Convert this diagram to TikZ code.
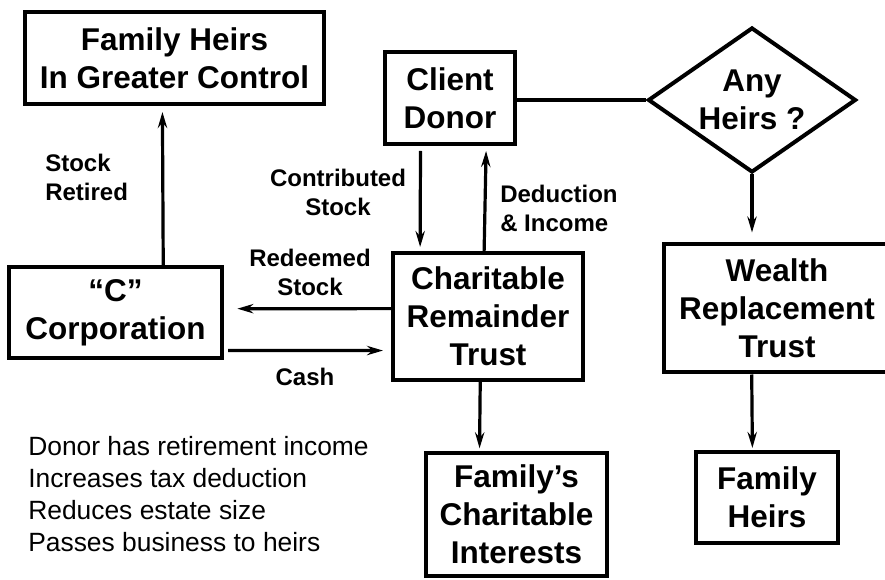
\documentclass[tikz,border=0pt]{standalone}
\usepackage{fontspec}
\setmainfont{Liberation Sans}
\usetikzlibrary{
  arrows.meta,
  shapes.geometric, % Shape "diamond"
  calc,             % Calculations $...$
}
\def\mylw{3pt}
\def\myaw{2.4pt}
\tikzset{
  >={Stealth[length=12pt,width=7pt,inset=4pt]},
  my box/.style={
    draw,
    line width=\mylw,
    rectangle,
    inner sep=0pt,
    align=center,
    font=\bfseries\fontsize{23.6}{28.5}\selectfont
  },
  my decision/.style={
    my box,
    diamond,
    aspect=1.43,
    inner sep=-2pt
  },
  my label/.style={
    inner sep=0pt,
    font=\bfseries\fontsize{18}{21.75}\selectfont
  },
  my note/.style={
    inner sep=0pt,
    align=left,
    font=\fontsize{19.8}{24}\selectfont
  },
  flow/.style={
    ->,
    line width=\myaw,
    shorten >=3pt
  }
}

\begin{document}
\begin{tikzpicture}[x=0.75pt,y=-0.75pt]
\clip (0,0) rectangle (885,580);
% boxes
\node[my box,minimum width=224.25pt,minimum height=69pt] (greater) at (174.5,58) {Family Heirs\\In Greater Control};
\node[my box,minimum width=97.5pt,minimum height=69pt] (donor) at (450,98) {Client\\Donor};
\node[my decision,minimum width=156pt,minimum height=108.75pt] (anyheirs) at (752,100) {Any\\Heirs ?};
\node[my box,minimum width=159.75pt,minimum height=68.25pt] (corp) at (115.5,312.5) {“C”\\Corporation};
\node[my box,minimum width=142.5pt,minimum height=95.25pt] (crt) at (488,316.5) {Charitable\\Remainder\\Trust};
\node[my box,minimum width=169.5pt,minimum height=96pt] (wrt) at (777,308.5) {Wealth\\Replacement\\Trust};
\node[my box,minimum width=135.75pt,minimum height=92.25pt] (interests) at (516.5,514.5) {Family’s\\Charitable\\Interests};
\node[my box,minimum width=106.5pt,minimum height=68.25pt] (heirs) at (767,497.5) {Family\\Heirs};
% labels
\node[my label,align=left,anchor=west] (retired) at (45,177) {Stock\\Retired};
\node[my label,align=center] (contrib) at (338,192) {Contributed\\Stock};
\node[my label,align=left,anchor=west] (deduct) at (500,208) {Deduction\\\& Income};
\node[my label,align=center] (redeemed) at (310,272) {Redeemed\\Stock};
\node[my label] (cash) at (305,377) {Cash};
\node[my note,anchor=west] (benefits) at (28,494)
  {Donor has retirement income\\Increases tax deduction\\Reduces estate size\\Passes business to heirs};
% connectors
\draw[flow,shorten >=4.5pt]
  ($(corp.north west)!0.72!(corp.north east)$)
    -- ($(greater.south west)!0.46!(greater.south east)$);
\draw[flow,shorten <=3.75pt]
  ($(donor.south west)!0.28!(donor.south east)$)
    -- ($(crt.north west)!0.15!(crt.north east)$);
\draw[flow,shorten >=3.75pt]
  ($(crt.north west)!0.48!(crt.north east)$)
    -- ($(donor.south west)!0.77!(donor.south east)$);
\draw[flow,shorten >=10pt]
  ($(crt.north west)!0.44!(crt.south west)$)
    -- ($(corp.north east)!0.46!(corp.south east)$);
\draw[flow,shorten <=3pt,shorten >=6pt]
  ($(corp.north east)!0.9!(corp.south east)$)
    -- ($(crt.north west)!0.76!(crt.south west)$);
\draw[line width=\myaw] (donor.east |- anyheirs.west) -- (anyheirs.west);
\draw[flow,shorten >=7.5pt] (anyheirs.south) -- (anyheirs.south |- wrt.north);
\draw[flow,shorten >=2pt]
  ($(crt.south west)!0.46!(crt.south east)$)
    -- ($(interests.north west)!0.3!(interests.north east)$);
\draw[flow,shorten >=1.5pt]
  ($(wrt.south west)!0.39!(wrt.south east)$)
    -- ($(heirs.north west)!0.4!(heirs.north east)$);
\end{tikzpicture}
\end{document}
